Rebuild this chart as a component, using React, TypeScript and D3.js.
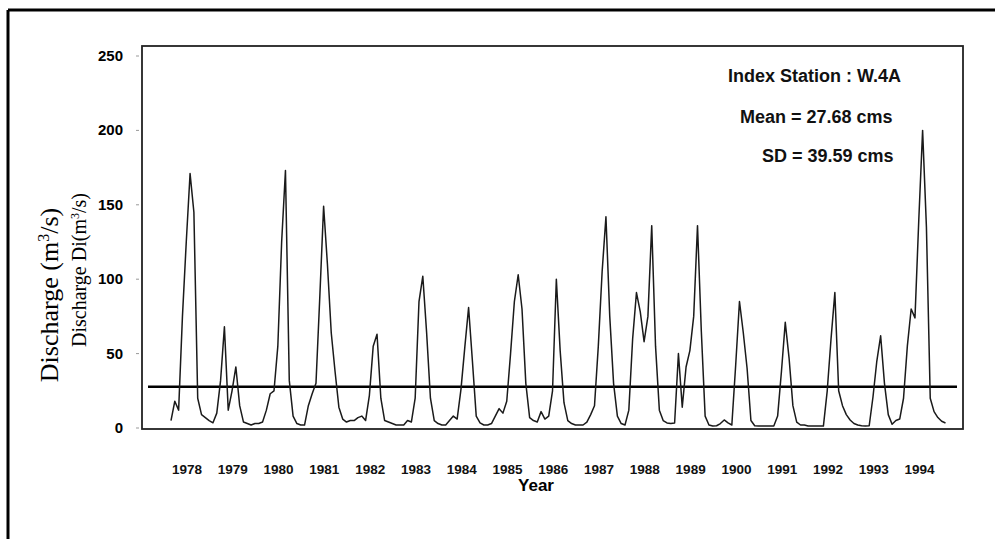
import React, { useRef, useEffect } from "react";
import * as d3 from "d3";

// monthly discharge (m3/s), hydrological year April -> March
const q1978 = [5, 18, 12, 75, 125, 171, 145, 20, 9, 7, 5, 3.5];
const q1979 = [10, 32, 68, 12, 25, 41, 15, 4, 3, 2, 3, 3];
const q1980 = [4, 12, 23, 25, 55, 125, 173, 32, 8, 3, 2, 2];
const q1981 = [15, 23, 30, 88, 149, 110, 64, 38, 14, 6, 4, 5];
const q1982 = [5, 7, 8, 5, 22, 55, 63, 20, 5, 4, 3, 2];
const q1983 = [2, 2, 5, 4, 20, 85, 102, 64, 20, 5, 3, 2];
const q1984 = [2, 5, 8, 6, 26, 54, 81, 45, 8, 3.4, 2, 2];
const q1985 = [3, 8, 13, 10, 18, 50, 85, 103, 80, 30, 7, 5];
const q1986 = [4, 11, 6, 8, 25, 100, 52, 17, 5, 3, 2, 2];
const q1987 = [2, 4, 9, 15, 55, 105, 142, 75, 30, 8, 3, 2];
const q1988 = [12, 60, 91, 78, 58, 75, 136, 55, 12, 5, 3.4, 3];
const q1989 = [3.4, 50, 14, 41, 52, 75, 136, 65, 8, 2, 1.3, 1.5];
const q1990 = [3, 5.4, 3.4, 2, 42, 85, 64, 40, 5, 1.5, 1.3, 1.3];
const q1991 = [1.3, 1.3, 1.3, 8, 38, 71, 47, 15, 4, 2, 2, 1.3];
const q1992 = [1.3, 1.3, 1.3, 1.3, 25, 60, 91, 25, 15, 9, 5.4, 3];
const q1993 = [2, 1.5, 1.3, 1.5, 21, 45, 62, 30, 9, 2.5, 5, 6];
const q1994 = [20, 55, 80, 74, 140, 200, 135, 20, 11, 7, 4.5, 3.4];

const yearLabels = [
  "1978", "1979", "1980", "1981", "1982", "1983", "1984", "1985", "1986",
  "1987", "1988", "1989", "1900", "1991", "1992", "1993", "1994",
];
const yTicks = [0, 50, 100, 150, 200, 250];
const meanQ = 27.68;
const notes = ["Index Station : W.4A", "Mean = 27.68 cms", "SD = 39.59 cms"];

const flows = [
  q1978, q1979, q1980, q1981, q1982, q1983, q1984, q1985, q1986,
  q1987, q1988, q1989, q1990, q1991, q1992, q1993, q1994,
].flat();

const NARROW = "'Liberation Sans Narrow', 'Arial Narrow', sans-serif";
const SERIF = "'Liberation Serif', 'Times New Roman', serif";

const DischargeChart = () => {
  const svgRef = useRef<SVGSVGElement>(null);

  useEffect(() => {
    const width = 995;
    const height = 539;
    const box = { left: 142, top: 46, right: 963, bottom: 429 };

    const svg = d3.select(svgRef.current);
    svg.selectAll("*").remove();
    svg.attr("width", width).attr("height", height);

    const x = d3.scaleLinear().domain([0, flows.length - 1]).range([171, 945.5]);
    const y = d3.scaleLinear().domain([0, 250]).range([428, 56]);

    // outer frame (only top and left edges show)
    svg.append("line").attr("x1", 8).attr("x2", width).attr("y1", 10).attr("y2", 10)
      .attr("stroke", "#000").attr("stroke-width", 3);
    svg.append("line").attr("x1", 8).attr("x2", 8).attr("y1", 10).attr("y2", height)
      .attr("stroke", "#000").attr("stroke-width", 3);

    // plot box
    svg.append("rect")
      .attr("x", box.left).attr("y", box.top)
      .attr("width", box.right - box.left).attr("height", box.bottom - box.top)
      .attr("fill", "none").attr("stroke", "#222").attr("stroke-width", 1.8);

    // y ticks + labels
    const yg = svg.append("g");
    yTicks.forEach((t) => {
      yg.append("line").attr("x1", 136).attr("x2", 139).attr("y1", y(t)).attr("y2", y(t))
        .attr("stroke", "#999").attr("stroke-width", 1);
      yg.append("text").attr("x", 123).attr("y", y(t) + 5).attr("text-anchor", "end")
        .style("font-family", NARROW).style("font-weight", "bold").style("font-size", "15px")
        .text(t);
    });

    // year labels
    svg.append("g").selectAll("text").data(yearLabels).enter().append("text")
      .attr("x", (_, i) => x(i * 12 + 4.2)).attr("y", 474).attr("text-anchor", "middle")
      .style("font-family", NARROW).style("font-weight", "bold").style("font-size", "13.5px")
      .attr("fill", "#111")
      .text((d) => d);

    svg.append("text").attr("x", 536).attr("y", 491).attr("text-anchor", "middle")
      .style("font-family", NARROW).style("font-weight", "bold").style("font-size", "17px")
      .text("Year");

    // y titles
    const t1 = svg.append("text").attr("transform", "translate(58,295) rotate(-90)")
      .attr("text-anchor", "middle").style("font-family", SERIF).style("font-size", "26px");
    t1.append("tspan").text("Discharge (m");
    t1.append("tspan").attr("dy", -9).style("font-size", "16px").text("3");
    t1.append("tspan").attr("dy", 9).text("/s)");

    const t2 = svg.append("text").attr("transform", "translate(86,270) rotate(-90)")
      .attr("text-anchor", "middle").style("font-family", SERIF).style("font-size", "20px");
    t2.append("tspan").text("Discharge Di(m");
    t2.append("tspan").attr("dy", -7).style("font-size", "12px").text("3");
    t2.append("tspan").attr("dy", 7).text("/s)");

    // mean line
    svg.append("line")
      .attr("x1", box.left + 6).attr("x2", box.right - 6)
      .attr("y1", y(meanQ)).attr("y2", y(meanQ))
      .attr("stroke", "#000").attr("stroke-width", 2.5);

    // discharge trace
    svg.append("path")
      .datum(flows)
      .attr("fill", "none")
      .attr("stroke", "#1a1a1a")
      .attr("stroke-width", 1.5)
      .attr("stroke-linejoin", "round")
      .attr("d", d3.line<number>().x((_, i) => x(i)).y((d) => y(d)));

    // annotations
    const noteX = [728, 740, 762];
    const noteY = [82, 123, 162];
    notes.forEach((n, i) => {
      svg.append("text").attr("x", noteX[i]).attr("y", noteY[i])
        .style("font-family", NARROW).style("font-weight", "bold").style("font-size", "18px")
        .attr("fill", "#111")
        .text(n);
    });
  }, []);

  return <svg ref={svgRef} style={{ position: "absolute", left: 0, top: 0, background: "#fff" }}></svg>;
};

export default function App() {
  return <DischargeChart />;
}
